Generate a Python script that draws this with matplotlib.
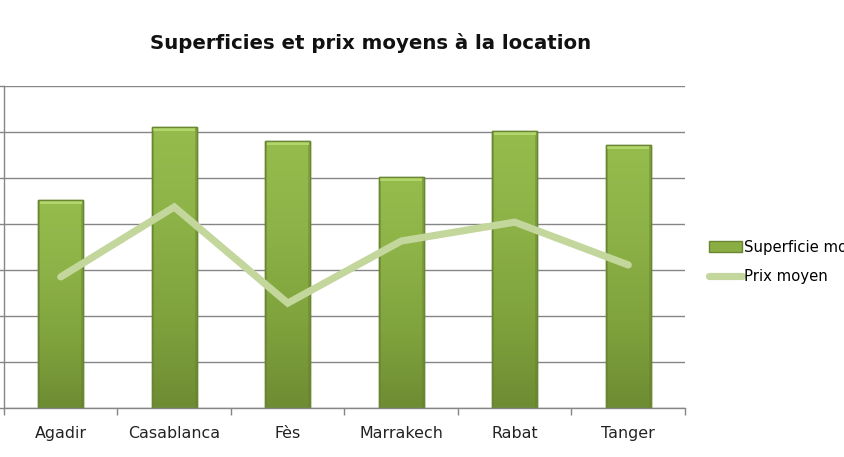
import matplotlib
matplotlib.use("Agg")
import matplotlib.pyplot as plt
import numpy as np
from matplotlib.colors import LinearSegmentedColormap
from matplotlib.patches import Patch
from matplotlib.lines import Line2D
from matplotlib.textpath import TextPath
from matplotlib.font_manager import FontProperties

categories = ["Agadir", "Casablanca", "Fès", "Marrakech", "Rabat", "Tanger"]
superficie = [4.52, 6.11, 5.80, 5.02, 6.02, 5.72]
prix = [2.85, 4.37, 2.28, 3.63, 4.04, 3.11]
title = "Superficies et prix moyens à la location"
legend_labels = ["Superficie moyenne", "Prix moyen"]

W, H = 845, 457
DPI = 100


def fit_size(text, target_px, weight="normal", family="DejaVu Sans"):
    fp = FontProperties(family=family, weight=weight, size=10)
    w = TextPath((0, 0), text, prop=fp).get_extents().width  # in points at size 10
    return 10 * (target_px * 72 / DPI) / w


fig = plt.figure(figsize=(W / DPI, H / DPI), dpi=DPI)
ax = fig.add_axes([4 / W, 1 - 408 / H, (685 - 4) / W, (408 - 86) / H])

x = np.arange(len(categories))
bars = ax.bar(x, superficie, width=0.4, color="#8aae43", edgecolor="#6a8633",
              linewidth=1.0, zorder=2)

cmap = LinearSegmentedColormap.from_list("g", ["#6e8c33", "#80a33d", "#8db247", "#96bc4d"])
grad = np.linspace(0, 1, 256).reshape(-1, 1)
hgrad = np.array([[0.0, 0.55, 0.75, 0.8, 0.75, 0.55, 0.0]])
for b in bars:
    x0, y0 = b.get_x(), b.get_y()
    w, h = b.get_width(), b.get_height()
    im = ax.imshow(grad, cmap=cmap, aspect="auto", origin="lower",
                   extent=[x0, x0 + w, y0, y0 + h], zorder=2.1, interpolation="bilinear")
    im.set_clip_path(b)
    # darker side edges
    ax.fill_between([x0, x0 + w * 0.05], y0, y0 + h, color="#5f7b2b", alpha=0.35,
                    zorder=2.15, linewidth=0)
    ax.fill_between([x0 + w * 0.95, x0 + w], y0, y0 + h, color="#5f7b2b", alpha=0.35,
                    zorder=2.15, linewidth=0)
    # top bevel highlight
    ax.fill_between([x0 + w * 0.04, x0 + w * 0.96], y0 + h - 0.09, y0 + h, color="#b3d66c",
                    zorder=2.2, linewidth=0)
    ax.bar(x0 + w / 2, h, width=w, bottom=y0, fill=False, edgecolor="#6a8633",
           linewidth=1.0, zorder=2.3)

ax.plot(x, prix, color="#c3d69b", linewidth=5.2, solid_capstyle="round",
        solid_joinstyle="miter", zorder=3)

ax.set_xlim(-0.5, len(categories) - 0.5)
ax.set_ylim(0, 7)
ax.set_yticks(np.arange(0, 8, 1))
ax.set_yticklabels([])
ax.yaxis.grid(True, color="#868686", linewidth=1.0, zorder=0)
ax.set_axisbelow(True)
ax.set_xticks(np.arange(-0.5, len(categories), 1))
ax.set_xticklabels([])
ax.set_xticks(x, minor=True)
tick_fs = fit_size("Casablanca", 89)
ax.set_xticklabels(categories, minor=True, fontsize=tick_fs, family="DejaVu Sans",
                   color="#222222")
ax.tick_params(axis="x", which="minor", length=0, pad=13)
ax.tick_params(axis="x", which="major", length=5, color="#868686", width=1)
ax.tick_params(axis="y", length=5, color="#868686", width=1)
for s in ["top", "right"]:
    ax.spines[s].set_visible(False)
for s in ["left", "bottom"]:
    ax.spines[s].set_color("#868686")
    ax.spines[s].set_linewidth(1.0)

title_fs = fit_size(title, 438, weight="bold")
fig.text(371 / W, 1 - 43 / H, title, ha="center", va="center",
         fontsize=title_fs, fontweight="bold", family="DejaVu Sans", color="#111111")

leg_fs = fit_size("Prix moyen", 81)
handles = [Patch(facecolor="#8aae43", edgecolor="#6a8633"),
           Line2D([0], [0], color="#c3d69b", linewidth=5.2, solid_capstyle="round")]
fig.legend(handles, legend_labels, loc="center left",
           bbox_to_anchor=(703 / W, 1 - 262 / H), frameon=False,
           prop={"family": "DejaVu Sans", "size": leg_fs}, handlelength=2.2,
           handletextpad=0.15, labelspacing=0.95, borderaxespad=0)

fig.savefig("out.png", dpi=DPI)
